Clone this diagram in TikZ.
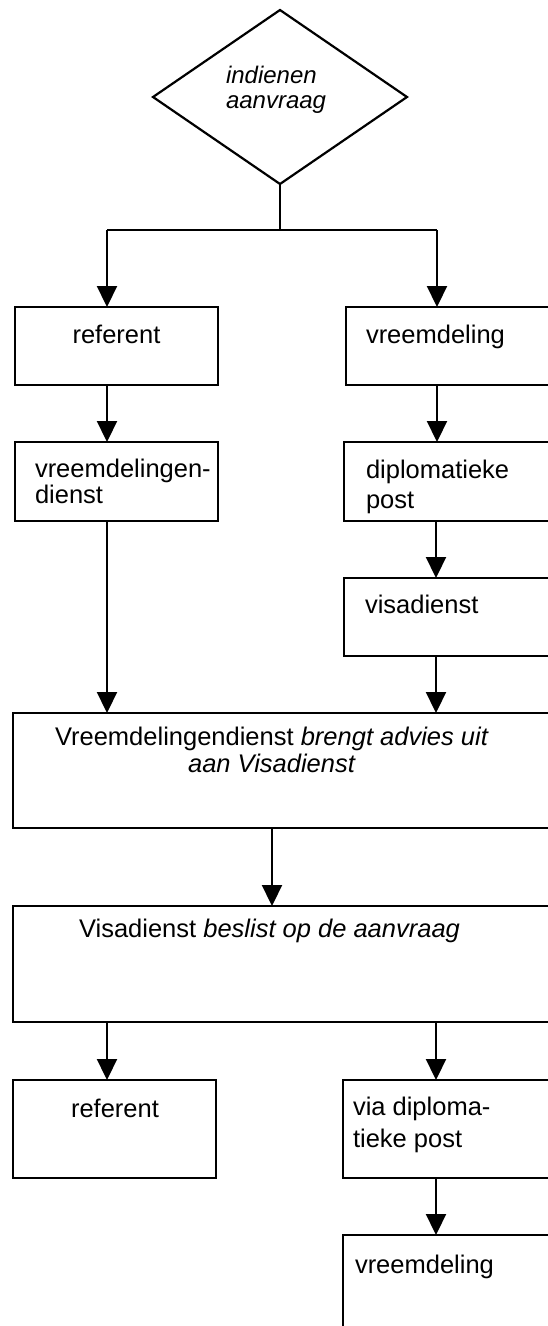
\documentclass[tikz,border=0pt]{standalone}
\usepackage{fontspec}
\setmainfont{Liberation Sans}
\usetikzlibrary{shapes.geometric,arrows.meta}
\begin{document}
\begin{tikzpicture}[x=1pt,y=-1pt,
  every node/.style={inner sep=0pt, outer sep=0pt},
  box/.style={draw, line width=2.2pt, rectangle},
  % multi-line labels are placed by the baseline of their last line
  txt/.style={font=\fontsize{25.5}{29}\selectfont, align=left, anchor=base west},
  ctxt/.style={font=\fontsize{25.5}{29}\selectfont, align=center, anchor=base},
  arr/.style={line width=2.2pt, -{Triangle[width=20pt,length=21pt]}},
  ln/.style={line width=2.2pt}]
\useasboundingbox (0,0) rectangle (547,1326);

% decision
\node[draw, line width=2.2pt, diamond, aspect=1.46, minimum width=254pt, minimum height=174pt] (dia) at (280,97) {};
\node[txt, font=\fontsize{24}{27}\selectfont] (diat) at (226,108) {\itshape indienen\\[-2pt]\itshape aanvraag};

% boxes
\node[box, minimum width=203pt, minimum height=78pt] (ref1) at (116.5,346) {};
\node[box, minimum width=203pt, minimum height=78pt] (vre1) at (447.5,346) {};
\node[box, minimum width=203pt, minimum height=79pt] (vd) at (116.5,481.5) {};
\node[box, minimum width=205pt, minimum height=79pt] (dp) at (446.5,481.5) {};
\node[box, minimum width=205pt, minimum height=78pt] (vis) at (446.5,617) {};
\node[box, minimum width=560pt, minimum height=115pt] (adv) at (293,770.5) {};
\node[box, minimum width=560pt, minimum height=116pt] (bes) at (293,964) {};
\node[box, minimum width=203pt, minimum height=98pt] (ref2) at (114.5,1129) {};
\node[box, minimum width=206pt, minimum height=98pt] (via) at (446,1129) {};
\node[box, minimum width=206pt, minimum height=110pt] (vre2) at (446,1290) {};

% texts
\node[ctxt] (ref1t) at (116.5,343) {referent};
\node[txt] (vre1t) at (366,343) {vreemdeling};
\node[txt] (vdt) at (35,503) {vreemdelingen-\\[-3.5pt]dienst};
\node[txt] (dpt) at (366,508) {diplomatieke\\[1pt]post};
\node[txt] (vist) at (365,613) {visadienst};
\node[ctxt] (advt) at (271.5,772) {Vreemdelingendienst \itshape brengt advies uit\\[-2pt]\itshape aan Visadienst};
\node[ctxt] (best) at (269.5,937) {Visadienst \itshape beslist op de aanvraag};
\node[ctxt] (ref2t) at (115,1117) {referent};
\node[txt] (viat) at (353,1147) {via diploma-\\[3pt]tieke post};
\node[txt] (vre2t) at (355,1273) {vreemdeling};

% column guides
\coordinate (L) at (107,230);
\coordinate (R) at (437,230);
\coordinate (RR) at (436,0);
\coordinate (M) at (272,0);

% connectors
\draw[ln] (dia.south) -- (dia.south |- L);
\draw[ln] (L) -- (R);
\draw[arr] (L) -- (L |- ref1.north);
\draw[arr] (R) -- (R |- vre1.north);
\draw[arr] (ref1.south -| L) -- (vd.north -| L);
\draw[arr] (vre1.south -| R) -- (dp.north -| R);
\draw[arr] (dp.south -| RR) -- (vis.north -| RR);
\draw[arr] (vd.south -| L) -- (adv.north -| L);
\draw[arr] (vis.south -| RR) -- (adv.north -| RR);
\draw[arr] (adv.south -| M) -- (bes.north -| M);
\draw[arr] (bes.south -| L) -- (ref2.north -| L);
\draw[arr] (bes.south -| RR) -- (via.north -| RR);
\draw[arr] (via.south -| RR) -- (vre2.north -| RR);
\end{tikzpicture}
\end{document}
